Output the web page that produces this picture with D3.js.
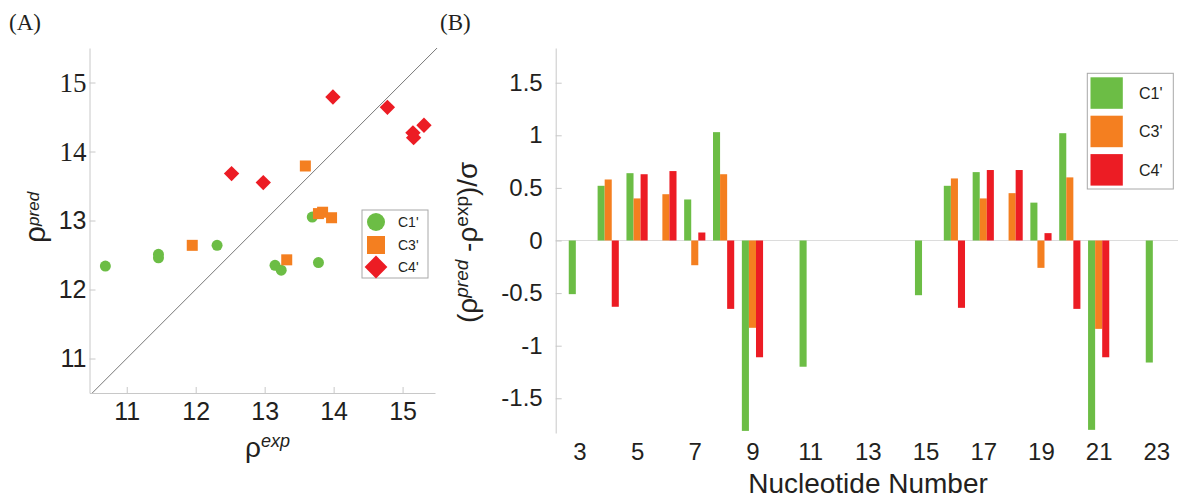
<!DOCTYPE html>
<html>
<head>
<meta charset="utf-8">
<script src="https://cdn.jsdelivr.net/npm/d3@7"></script>
<style>
  body { margin: 0; background: #fff; }
  svg { display: block; font-family: "Liberation Sans", Arial, sans-serif; }
</style>
</head>
<body>
<div id="chart"></div>
<script>
// panel (A): predicted vs experimental rho, one array pair per carbon
const c1Exp  = [10.69, 11.46, 11.46, 12.31, 13.15, 13.24, 13.78, 13.69];
const c1Pred = [12.34, 12.51, 12.46, 12.64, 12.35, 12.28, 12.39, 13.05];
const c3Exp  = [11.95, 13.32, 13.59, 13.78, 13.84, 13.97];
const c3Pred = [12.64, 12.43, 13.79, 13.10, 13.12, 13.04];
const c4Exp  = [12.52, 12.98, 13.99, 14.78, 15.15, 15.16, 15.31];
const c4Pred = [13.68, 13.55, 14.79, 14.64, 14.27, 14.20, 14.38];
const scatterTicks = [11, 12, 13, 14, 15];

// panel (B): normalised deviation per nucleotide (null = no bar)
const nucleotides = [3, 4, 5, 6, 7, 8, 9, 11, 15, 16, 17, 18, 19, 20, 21, 23];
const c1Dev = [-0.51, 0.52, 0.64, null, 0.39, 1.03, -1.81, -1.20, -0.52, 0.52, 0.65, null, 0.36, 1.02, -1.80, -1.16];
const c3Dev = [null, 0.58, 0.40, 0.44, -0.235, 0.63, -0.83, null, null, 0.59, 0.40, 0.45, -0.26, 0.60, -0.84, null];
const c4Dev = [null, -0.63, 0.63, 0.66, 0.076, -0.65, -1.11, null, null, -0.64, 0.67, 0.67, 0.07, -0.65, -1.11, null];
const nucTicks = [3, 5, 7, 9, 11, 13, 15, 17, 19, 21, 23];
const devTicks = [1.5, 1, 0.5, 0, -0.5, -1, -1.5];
const devTickLabels = ["1.5", "1", "0.5", "0", "-0.5", "-1", "-1.5"];

const series = ["C1'", "C3'", "C4'"];
const colors = ["#6cbd45", "#f47f20", "#ec1c24"];

const W = 1178, H = 500;
const axisGray = "#c8c8c8";
const textCol = "#231f20";

const svg = d3.select("#chart").append("svg")
  .attr("width", W)
  .attr("height", H);

// ---------- panel A ----------
let xA = d3.scaleLinear().domain([10.46, 15.47]).range([89.5, 435]);
let yA = d3.scaleLinear().domain([10.5, 15.5]).range([393, 48]);

svg.append("text")
  .attr("x", 9).attr("y", 30)
  .style("font-family", "'Liberation Serif', serif")
  .style("font-size", "23px")
  .attr("fill", textCol)
  .text("(A)");

let gxA = svg.append("g")
  .attr("transform", "translate(0,393)")
  .call(d3.axisBottom(xA).tickValues(scatterTicks).tickSizeInner(-6).tickSizeOuter(0).tickPadding(9).tickFormat(d3.format("d")));
let gyA = svg.append("g")
  .attr("transform", "translate(89.5,0)")
  .call(d3.axisLeft(yA).tickValues(scatterTicks).tickSizeInner(-6).tickSizeOuter(0).tickPadding(3).tickFormat(d3.format("d")));

[gxA, gyA].forEach(g => {
  g.select(".domain").attr("stroke", axisGray);
  g.selectAll(".tick line").attr("stroke", axisGray);
  g.selectAll(".tick text")
    .attr("fill", textCol)
    .style("font-size", "25px");
});
// the two top labels of the y axis come out in a serif face in the original
gyA.selectAll(".tick text")
  .filter(d => d >= 14)
  .style("font-family", "'Liberation Serif', serif")
  .style("font-size", "27px");

// y = x reference line
svg.append("line")
  .attr("x1", xA(10.5)).attr("y1", yA(10.5))
  .attr("x2", xA(15.5)).attr("y2", yA(15.5))
  .attr("stroke", "#555")
  .attr("stroke-width", 0.8);

let c1Pts = c1Exp.map((v, i) => [v, c1Pred[i]]);
let c3Pts = c3Exp.map((v, i) => [v, c3Pred[i]]);
let c4Pts = c4Exp.map((v, i) => [v, c4Pred[i]]);

svg.append("g").selectAll("circle")
  .data(c1Pts).join("circle")
  .attr("cx", d => xA(d[0]))
  .attr("cy", d => yA(d[1]))
  .attr("r", 5.5)
  .attr("fill", colors[0]);

svg.append("g").selectAll("rect")
  .data(c3Pts).join("rect")
  .attr("x", d => xA(d[0]) - 5.5)
  .attr("y", d => yA(d[1]) - 5.5)
  .attr("width", 11).attr("height", 11)
  .attr("fill", colors[1]);

let diamond = d3.symbol().type(d3.symbolDiamond2).size(150);
svg.append("g").selectAll("path")
  .data(c4Pts).join("path")
  .attr("transform", d => "translate(" + xA(d[0]) + "," + yA(d[1]) + ")")
  .attr("d", diamond)
  .attr("fill", colors[2]);

// axis titles
let xTitleA = svg.append("text")
  .attr("x", 245).attr("y", 457)
  .attr("fill", textCol)
  .style("font-size", "28px");
xTitleA.append("tspan").text("ρ");
xTitleA.append("tspan").attr("dy", -10).style("font-size", "18px").style("font-style", "italic").text("exp");

let yTitleA = svg.append("text")
  .attr("transform", "translate(45,243) rotate(-90)")
  .attr("fill", textCol)
  .style("font-size", "30px");
yTitleA.append("tspan").text("ρ");
yTitleA.append("tspan").attr("dy", -6).style("font-size", "17px").style("font-style", "italic").text("pred");

// legend A
let legA = svg.append("g");
legA.append("rect")
  .attr("x", 362).attr("y", 210).attr("width", 66).attr("height", 68)
  .attr("fill", "#fff").attr("stroke", "#a8a8a8");
legA.append("circle").attr("cx", 376).attr("cy", 222).attr("r", 9).attr("fill", colors[0]);
legA.append("rect").attr("x", 367).attr("y", 236).attr("width", 18).attr("height", 18).attr("fill", colors[1]);
legA.append("path").attr("transform", "translate(376,267)")
  .attr("d", d3.symbol().type(d3.symbolDiamond2).size(330)).attr("fill", colors[2]);
legA.selectAll("text.lab")
  .data(series).join("text")
  .attr("class", "lab")
  .attr("x", 398)
  .attr("y", (d, i) => 227 + i * 22.5)
  .attr("fill", textCol)
  .style("font-size", "14px")
  .text(d => d);

// ---------- panel B ----------
let xB = d3.scaleLinear().domain([2.18, 23.75]).range([555.7, 1178]);
let yB = d3.scaleLinear().domain([-1.83, 1.83]).range([433, 48]);
let bw = xB(3.245) - xB(3);

svg.append("text")
  .attr("x", 440).attr("y", 30)
  .style("font-family", "'Liberation Serif', serif")
  .style("font-size", "23px")
  .attr("fill", textCol)
  .text("(B)");

// zero line runs right across the panel
svg.append("line")
  .attr("x1", 555.7).attr("x2", W)
  .attr("y1", yB(0)).attr("y2", yB(0))
  .attr("stroke", "#dcdcdc")
  .attr("stroke-width", 1.2);

let gyB = svg.append("g")
  .attr("transform", "translate(555.7,0)")
  .call(d3.axisLeft(yB).tickValues(devTicks).tickSizeInner(-6).tickSizeOuter(0).tickPadding(13)
    .tickFormat((d, i) => devTickLabels[i]));
gyB.select(".domain").attr("stroke", axisGray);
gyB.selectAll(".tick line").attr("stroke", axisGray);
gyB.selectAll(".tick text").attr("fill", textCol).style("font-size", "24px");

let gxB = svg.append("g")
  .attr("transform", "translate(0,433)")
  .call(d3.axisBottom(xB).tickValues(nucTicks).tickSize(0).tickPadding(10).tickFormat(d3.format("d")));
gxB.select(".domain").remove();
gxB.selectAll(".tick text").attr("fill", textCol).style("font-size", "24px");

let devSeries = [c1Dev, c3Dev, c4Dev];
devSeries.forEach((vals, s) => {
  let rows = nucleotides.map((n, i) => ({ n: n, v: vals[i] })).filter(d => d.v !== null);
  svg.append("g").selectAll("rect")
    .data(rows).join("rect")
    .attr("x", d => xB(d.n) + (s - 1) * bw - bw / 2)
    .attr("width", bw)
    .attr("y", d => yB(Math.max(d.v, 0)))
    .attr("height", d => Math.abs(yB(d.v) - yB(0)))
    .attr("fill", colors[s]);
});

let yTitleB = svg.append("text")
  .attr("transform", "translate(477,323) rotate(-90)")
  .attr("fill", textCol)
  .style("font-size", "28px");
yTitleB.append("tspan").text("(ρ");
yTitleB.append("tspan").attr("dy", -9).style("font-size", "19px").style("font-style", "italic").text("pred");
yTitleB.append("tspan").attr("dy", 9).text(" -ρ");
yTitleB.append("tspan").attr("dy", -9).style("font-size", "19px").text("exp");
yTitleB.append("tspan").attr("dy", 9).text(")/σ");

svg.append("text")
  .attr("x", 868).attr("y", 493)
  .attr("text-anchor", "middle")
  .attr("fill", textCol)
  .style("font-size", "28px")
  .text("Nucleotide Number");

// legend B
let legB = svg.append("g");
legB.append("rect")
  .attr("x", 1087.3).attr("y", 73.3).attr("width", 86).attr("height", 115.7)
  .attr("fill", "#fff").attr("stroke", "#a8a8a8");
legB.selectAll("rect.sw")
  .data(series).join("rect")
  .attr("class", "sw")
  .attr("x", 1090.5)
  .attr("y", (d, i) => 77.3 + i * 38.4)
  .attr("width", 32.3).attr("height", 31.5)
  .attr("fill", (d, i) => colors[i]);
legB.selectAll("text.lab")
  .data(series).join("text")
  .attr("class", "lab")
  .attr("x", 1139)
  .attr("y", (d, i) => 99 + i * 38.4)
  .attr("fill", textCol)
  .style("font-size", "16px")
  .text(d => d);
</script>
</body>
</html>
